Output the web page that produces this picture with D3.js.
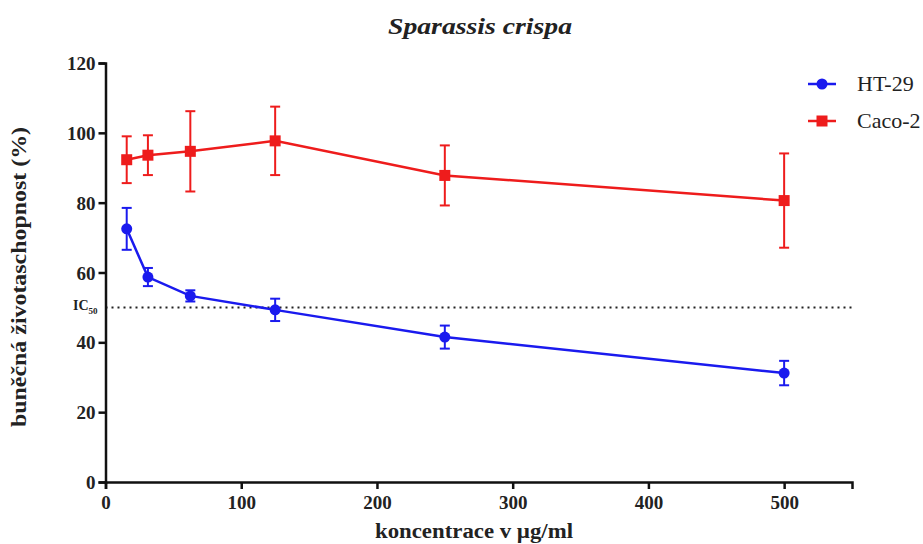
<!DOCTYPE html>
<html>
<head>
<meta charset="utf-8">
<script src="https://cdn.jsdelivr.net/npm/d3@7"></script>
<style>
  body { margin: 0; background: #fff; }
  svg text { font-family: "Liberation Serif", "Times New Roman", Times, "DejaVu Serif", serif !important; }
</style>
</head>
<body>
<svg id="chart" width="923" height="544"></svg>
<script>
// concentrations (ug/ml)
let concentrations = [15.625, 31.25, 62.5, 125, 250, 500]
let ht29Mean = [72.5, 58.7, 53.3, 49.3, 41.5, 31.2]
let ht29Err = [6.0, 2.6, 1.6, 3.2, 3.3, 3.5]
let caco2Mean = [92.3, 93.6, 94.7, 97.7, 87.8, 80.6]
let caco2Err = [6.7, 5.7, 11.5, 9.8, 8.6, 13.5]
let xTicks = [0, 100, 200, 300, 400, 500]
let yTicks = [0, 20, 40, 60, 80, 100, 120]
let ic50 = 50

let svg = d3.select('#chart')

let xScale = d3.scaleLinear().domain([0, 550]).range([105.5, 852])
let yScale = d3.scaleLinear().domain([0, 120]).range([482, 63])

let series = [
    { name: 'HT-29', mean: ht29Mean, err: ht29Err, color: '#1a1aee', shape: 'circle' },
    { name: 'Caco-2', mean: caco2Mean, err: caco2Err, color: '#ee1c1c', shape: 'square' }
]

// IC50 dotted line
svg.append('line')
   .attr('x1', xScale(0)).attr('x2', xScale(550))
   .attr('y1', yScale(ic50)).attr('y2', yScale(ic50))
   .attr('stroke', '#222').attr('stroke-width', 2)
   .attr('stroke-dasharray', '2,4')

let icLabel = svg.append('text')
   .attr('x', xScale(0) - 8).attr('y', yScale(ic50) + 3)
   .attr('text-anchor', 'end')
   .attr('font-size', 14).attr('font-weight', 'bold').attr('fill', '#222')
icLabel.append('tspan').text('IC')
icLabel.append('tspan').attr('font-size', 9).attr('dy', 4).text('50')

// axes
let xAxis = d3.axisBottom(xScale).tickValues(xTicks).tickSize(7).tickPadding(4)
let yAxis = d3.axisLeft(yScale).tickValues(yTicks).tickSize(7).tickPadding(3)

let gx = svg.append('g')
   .attr('transform', 'translate(0,' + yScale(0) + ')')
   .call(xAxis)
let gy = svg.append('g')
   .attr('transform', 'translate(' + xScale(0) + ',0)')
   .call(yAxis)

;[gx, gy].forEach(g => {
    g.select('.domain').attr('stroke', '#111').attr('stroke-width', 2.5)
    g.selectAll('.tick line').attr('stroke', '#111').attr('stroke-width', 2.5)
    g.selectAll('.tick text')
     .attr('font-size', 19).attr('font-weight', 'bold').attr('fill', '#222')
})
gx.selectAll('.tick text').attr('dy', '0.85em')
gy.selectAll('.tick text').attr('dy', '0.35em')

// series
let line = d3.line()
   .x((d, i) => xScale(concentrations[i]))
   .y(d => yScale(d))

series.forEach(s => {
    let g = svg.append('g')
    g.append('path')
     .datum(s.mean)
     .attr('d', line)
     .attr('fill', 'none')
     .attr('stroke', s.color)
     .attr('stroke-width', 2.5)

    s.mean.forEach((m, i) => {
        let x = xScale(concentrations[i])
        let y1 = yScale(m + s.err[i])
        let y2 = yScale(m - s.err[i])
        g.append('line').attr('x1', x).attr('x2', x).attr('y1', y1).attr('y2', y2)
         .attr('stroke', s.color).attr('stroke-width', 2)
        ;[y1, y2].forEach(yy => {
            g.append('line').attr('x1', x - 5).attr('x2', x + 5).attr('y1', yy).attr('y2', yy)
             .attr('stroke', s.color).attr('stroke-width', 2)
        })
        if (s.shape === 'circle') {
            g.append('circle').attr('cx', x).attr('cy', yScale(m)).attr('r', 5.5).attr('fill', s.color)
        } else {
            g.append('rect').attr('x', x - 5.5).attr('y', yScale(m) - 5.5)
             .attr('width', 11).attr('height', 11).attr('fill', s.color)
        }
    })
})

// legend
series.forEach((s, i) => {
    let ly = 84 + i * 37
    let lg = svg.append('g').attr('transform', 'translate(808,' + ly + ')')
    lg.append('line').attr('x1', 0).attr('x2', 28).attr('y1', 0).attr('y2', 0)
      .attr('stroke', s.color).attr('stroke-width', 2.5)
    if (s.shape === 'circle') {
        lg.append('circle').attr('cx', 14).attr('cy', 0).attr('r', 5.5).attr('fill', s.color)
    } else {
        lg.append('rect').attr('x', 8.5).attr('y', -5.5).attr('width', 11).attr('height', 11).attr('fill', s.color)
    }
    lg.append('text').attr('x', 49).attr('y', 7)
      .attr('font-size', 22).attr('fill', '#222').text(s.name)
})

// title & axis labels
svg.append('text')
   .attr('x', 480).attr('y', 34)
   .attr('text-anchor', 'middle')
   .attr('font-size', 23).attr('font-weight', 'bold').attr('font-style', 'italic')
   .attr('fill', '#222')
   .attr('textLength', 184).attr('lengthAdjust', 'spacingAndGlyphs')
   .text('Sparassis crispa')

svg.append('text')
   .attr('x', 474).attr('y', 538)
   .attr('text-anchor', 'middle')
   .attr('font-size', 20).attr('font-weight', 'bold').attr('fill', '#222')
   .attr('textLength', 198).attr('lengthAdjust', 'spacingAndGlyphs')
   .text('koncentrace v µg/ml')

svg.append('text')
   .attr('transform', 'translate(26,277) rotate(-90)')
   .attr('text-anchor', 'middle')
   .attr('font-size', 20).attr('font-weight', 'bold').attr('fill', '#222')
   .attr('textLength', 300).attr('lengthAdjust', 'spacingAndGlyphs')
   .text('buněčná životaschopnost (%)')
</script>
</body>
</html>
